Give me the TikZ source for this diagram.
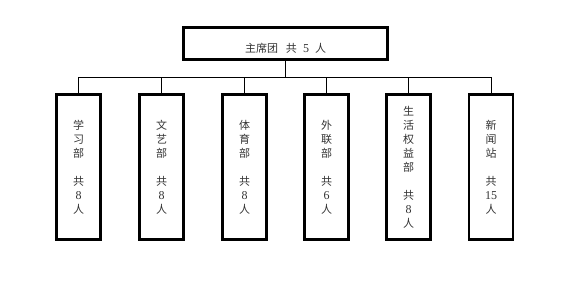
\documentclass[tikz,border=0pt]{standalone}
\usepackage{fontspec}
\newfontfamily\cjk{Noto Sans CJK SC}
\newfontfamily\dig{Liberation Serif}
\newcommand{\num}[1]{{\dig\fontsize{12}{14}\selectfont #1}}
\begin{document}
\begin{tikzpicture}[x=1pt, y=-1pt, font=\cjk\fontsize{11}{14}\selectfont,
  head/.style={draw, line width=2.8pt, minimum width=204pt, minimum height=32pt, inner sep=0pt,
    text height=18pt, text depth=1pt, text=black!80},
  dept/.style={draw, line width=2.8pt, minimum width=44pt, minimum height=145pt, inner sep=0pt, align=center, text=black!80},
  link/.style={line width=0.8pt}]
  \useasboundingbox (0,0) rectangle (576,282);
  \node[head] (zxt) at (285.5,43.5) {主席团\hspace{8pt}共\hspace{6pt}\num{5}\hspace{6pt}人};
  \coordinate (bus) at (285.5,77);
  \foreach \x/\n/\t in {78.7/xxb/{学\\习\\部\\[14pt]共\\\num{8}\\人},
                        161.5/wyb/{文\\艺\\部\\[14pt]共\\\num{8}\\人},
                        244.5/tyb/{体\\育\\部\\[14pt]共\\\num{8}\\人},
                        326.5/wlb/{外\\联\\部\\[14pt]共\\\num{6}\\人},
                        408.5/shb/{生\\活\\权\\益\\部\\[14pt]共\\\num{8}\\人},
                        491/xwz/{新\\闻\\站\\[14pt]共\\\num{15}\\人}} {
    \node[dept] (\n) at (\x,167) {\t};
    \draw[link] (\n.north) -- (\n.north |- bus);
  }
  \draw[link] (zxt.south) -- (bus);
  \draw[link] (xxb.north |- bus) -- (xwz.north |- bus);
\end{tikzpicture}
\end{document}
